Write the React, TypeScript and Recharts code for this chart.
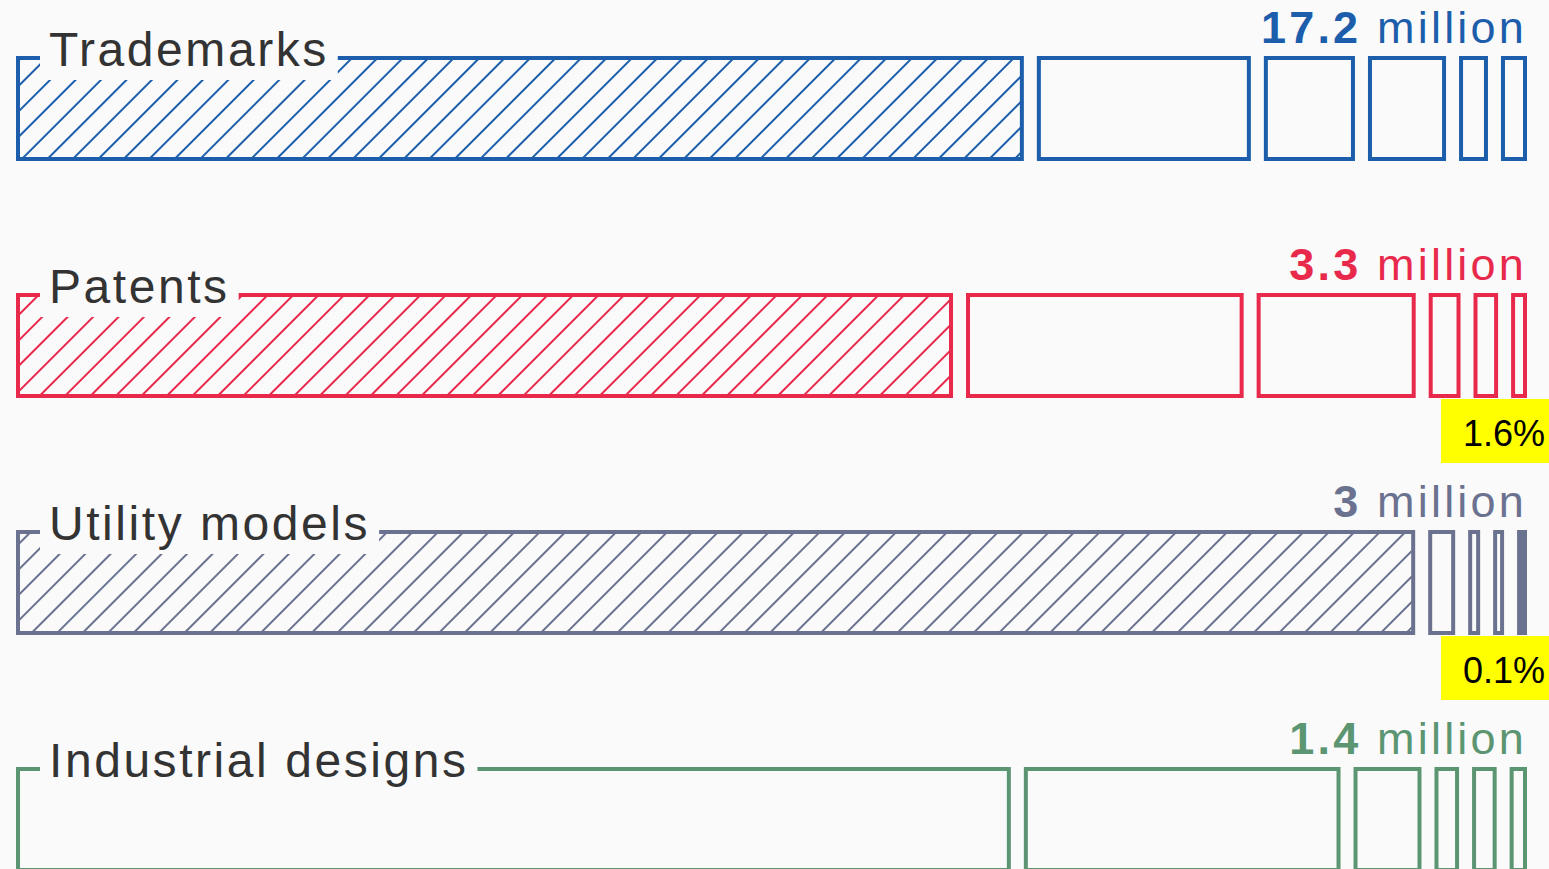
import React from 'react';
import { BarChart, Bar, XAxis, YAxis, LabelList } from 'recharts';

// ---- data ----
const categories = ['Trademarks', 'Patents', 'Utility models', 'Industrial designs'];
const totals = ['17.2', '3.3', '3', '1.4'];
const share1 = [69.7, 64.8, 95.9, 68.8];
const share2 = [14.8, 19.2, 1.85, 21.9];
const share3 = [6.3, 11.0, 0.82, 4.7];
const share4 = [5.4, 2.2, 0.75, 1.7];
const share5 = [2.0, 1.7, 0.68, 1.7];
const share6 = [1.8, 1.1, 0, 1.2];
const hatchedFirst = [true, true, true, false];
const notes = ['', '1.6%', '0.1%', ''];

// ---- styles ----
const palette = ['#1c5eab', '#e8294c', '#6b7290', '#5b9572'];
const BG = '#fafafa';
const FONT = "'Liberation Sans', Arial, Helvetica, sans-serif";
const CHART_W = 1549;
const CHART_H = 948;
const M_LEFT = 16;
const M_RIGHT = 22;
const GAP = 13;
const SW = 4;
const L = M_LEFT;
const R = CHART_W - M_RIGHT;

const segKeys = ['s0', 's1', 's2', 's3', 's4', 's5'];
const segArrays = [share1, share2, share3, share4, share5, share6];

const data = categories.map((name, i) => {
  const row: any = { name, total: totals[i] };
  segKeys.forEach((k, j) => {
    row[k] = segArrays[j][i];
  });
  return row;
});

let measureCtx: CanvasRenderingContext2D | null = null;
function measure(text: string, font: string, ls: number) {
  if (!measureCtx) measureCtx = document.createElement('canvas').getContext('2d');
  if (!measureCtx) return text.length * 24;
  measureCtx.font = font;
  return measureCtx.measureText(text).width + ls * text.length;
}

function makeShape(seg: number) {
  return (props: any) => {
    const { x, y, width, height } = props;
    let idx = props.index;
    if (idx == null && props.payload) idx = categories.indexOf(props.payload.name);
    const row = data[idx];
    if (!row) return null;
    const vals = segKeys.map((k) => row[k] as number);
    if (!vals[seg]) return null;
    const n = vals.filter((v) => v > 0).length;
    const span = R - L;
    const avail = span - (n - 1) * GAP;
    const ox = L + ((x - L) / span) * avail + seg * GAP;
    const ow = (width / span) * avail;
    const color = palette[idx];
    let fill = 'none';
    if (seg === 0 && hatchedFirst[idx]) fill = `url(#hatch${idx})`;
    else if (ow - 2 * SW < 2.5) fill = color;
    return (
      <rect
        x={ox + SW / 2}
        y={y}
        width={Math.max(ow - SW, 0.5)}
        height={height}
        fill={fill}
        stroke={color}
        strokeWidth={SW}
      />
    );
  };
}

const RowLabels = (props: any) => {
  const { y, height, value } = props;
  const idx = categories.indexOf(value);
  if (idx < 0) return null;
  const color = palette[idx];
  const labelLs = 2.55;
  const tw = measure(value, `48px ${FONT}`, labelLs);
  const textX = 49;
  const note = notes[idx];
  const noteY = y + height + 3;
  return (
    <g>
      <rect x={40} y={y - 4} width={textX + tw + 9 - 40} height={26} fill={BG} />
      <text
        x={textX}
        y={y + 8}
        fontFamily={FONT}
        fontSize={48}
        letterSpacing={labelLs}
        fill="#333333"
      >
        {value}
      </text>
      <text
        x={R}
        y={y - 15}
        textAnchor="end"
        fontFamily={FONT}
        fontSize={45}
        letterSpacing={3.2}
        fill={color}
      >
        <tspan fontWeight={700}>{totals[idx]}</tspan>
        <tspan>{' million'}</tspan>
      </text>
      {note ? (
        <g>
          <rect x={R - 86} y={noteY} width={110} height={64} fill="#ffff00" />
          <text
            x={1545}
            y={noteY + 47}
            textAnchor="end"
            fontFamily={FONT}
            fontSize={36}
            fill="#000000"
          >
            {note}
          </text>
        </g>
      ) : null}
    </g>
  );
};

export default function App() {
  return (
    <div
      style={{
        position: 'fixed',
        left: 0,
        top: 0,
        width: 1549,
        height: 869,
        overflow: 'hidden',
        background: BG,
      }}
    >
      <div style={{ position: 'absolute', left: 0, top: -10 }}>
        <BarChart
          width={CHART_W}
          height={CHART_H}
          data={data}
          layout="vertical"
          stackOffset="expand"
          margin={{ top: 0, right: M_RIGHT, bottom: 0, left: M_LEFT }}
          barSize={101}
        >
          <defs>
            {palette.map((c, i) => (
              <pattern
                key={i}
                id={`hatch${i}`}
                patternUnits="userSpaceOnUse"
                width={18}
                height={18}
                patternTransform="rotate(45)"
              >
                <line x1={9} y1={0} x2={9} y2={18} stroke={c} strokeWidth={2} />
              </pattern>
            ))}
          </defs>
          <XAxis type="number" hide domain={[0, 1]} />
          <YAxis type="category" dataKey="name" hide width={0} />
          {segKeys.map((k, j) => (
            <Bar
              key={k}
              dataKey={k}
              stackId="a"
              isAnimationActive={false}
              shape={makeShape(j)}
            >
              {j === 0 ? <LabelList dataKey="name" content={RowLabels} /> : null}
            </Bar>
          ))}
        </BarChart>
      </div>
    </div>
  );
}
